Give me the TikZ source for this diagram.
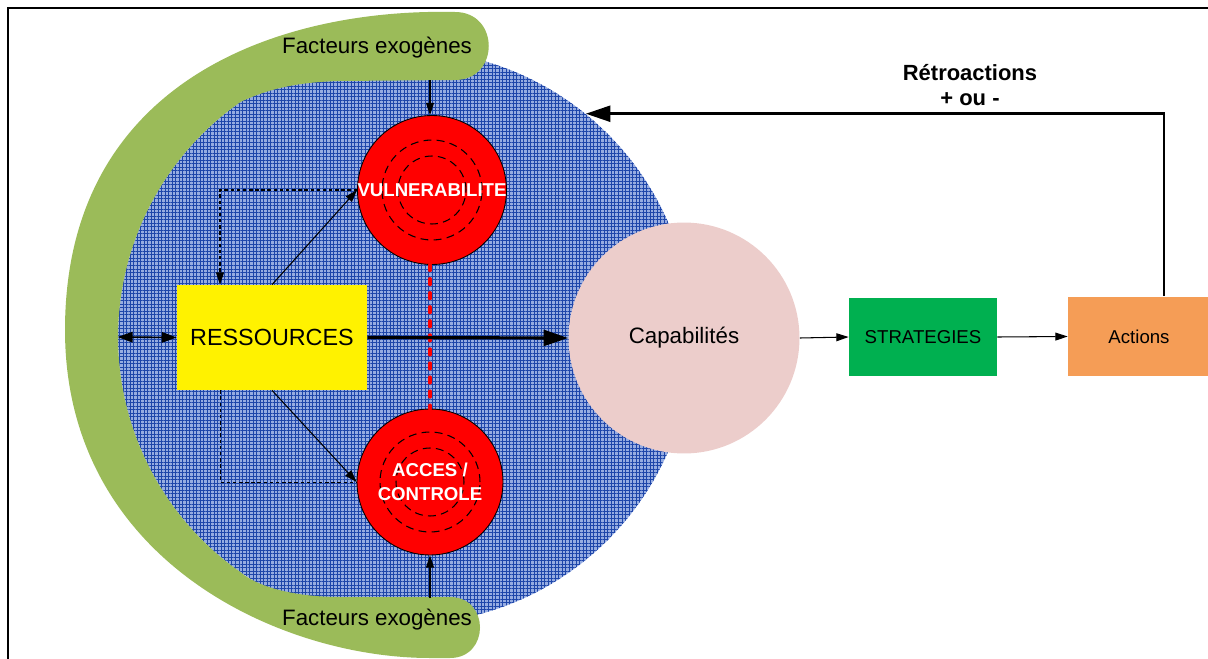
\documentclass[tikz,border=0pt]{standalone}
\usepackage{fontspec}
\setmainfont{Liberation Sans}
\usetikzlibrary{arrows.meta,positioning,patterns.meta}

\definecolor{olivegreen}{RGB}{155,187,89}
\definecolor{gridblue}{RGB}{30,70,170}
\definecolor{paleblue}{RGB}{150,172,225}
\definecolor{capapink}{RGB}{236,205,203}
\definecolor{stratgreen}{RGB}{0,176,80}
\definecolor{actorange}{RGB}{245,157,86}

\begin{document}
\begin{tikzpicture}[x=0.02cm, y=-0.02cm,
    target/.style={circle, draw=black, line width=0.5pt, fill=red, minimum size=2.92cm, inner sep=0pt, align=center, text=white, font=\fontsize{10.6}{13.6}\selectfont\bfseries,
        path picture={\draw[ring] (path picture bounding box.center) circle[radius=1cm];
                      \draw[ring] (path picture bounding box.center) circle[radius=0.68cm];}},
    ring/.style={dash pattern=on 4.5pt off 3pt, line width=0.6pt},
    box/.style={rectangle, fill=#1, minimum width=2.96cm, minimum height=1.58cm, font=\fontsize{10.6}{13}\selectfont},
    arr/.style={-{Triangle[length=7pt,width=4.5pt]}, line width=0.6pt},
    big/.style={-{Triangle[length=14pt,width=9pt]}, line width=1.8pt},
    link/.style={dash pattern=on 2pt off 1.5pt, line width=0.5pt},
    exo/.style={font=\fontsize{12.7}{15}\selectfont}
]
\useasboundingbox (0,0) rectangle (1208,659);

% --- Frame ---
\draw[line width=1.7pt] (1215,8) -- (8,8) -- (8,665);

% --- Blue zone ---
\node[circle, minimum size=11.48cm, inner sep=0pt, fill=paleblue,
      postaction={pattern={Hatch[angle=0,distance=2pt,line width=0.5pt]}, pattern color=gridblue}] (zone) at (405,337) {};

% --- Green crescent (exogenous factors) ---
\fill[olivegreen] (455,12) .. controls (280,8) and (65,80) .. (65,330)
  .. controls (65,560) and (280,658) .. (430,658) -- (450,658)
  .. controls (490,658) and (490,597) .. (450,597) -- (340,597)
  .. controls (290,597) and (255,585) .. (240.4,572.1)
  arc[start angle=235, end angle=125, radius=5.74cm]
  .. controls (270,88) and (300,82) .. (340,81) -- (455,80)
  .. controls (500,80) and (500,12) .. (455,12) -- cycle;
\node[exo] (fxtop) at (377,48) {Facteurs exogènes};
\node[exo] (fxbot) at (377,620) {Facteurs exogènes};
\coordinate (fx1) at (430,80);
\coordinate (fx2) at (430,598);

% --- Nodes ---
\node[target] (vul) at (432,190) {VULNERABILITE};
\node[target] (acc) at (430,482) {ACCES /\\CONTROLE};
\node[box=yellow, minimum width=3.8cm, minimum height=2.1cm, font=\fontsize{13.3}{16}\selectfont] (res) at (272,337.5) {RESSOURCES};
\node[circle, fill=capapink, minimum size=4.62cm, inner sep=0pt, font=\fontsize{12.7}{15}\selectfont] (cap) at (684,338) {Capabilités};
\node[box=stratgreen] (strat) at (923,337) {STRATEGIES};
\node[box=actorange, minimum width=2.84cm, minimum height=1.6cm] (act) at (1139,336.5) {Actions};
\node[font=\fontsize{12.5}{14.7}\selectfont\bfseries, align=center] (retro) at (970,85) {Rétroactions\\+ ou -};

% --- Connectors ---
\draw[arr] (fx1) -- (fx1 |- vul.north);
\draw[arr] (fx2) -- (fx2 |- acc.south);
\draw[red, line width=2.3pt, dash pattern=on 3pt off 5pt, line cap=round] (acc.north |- vul.south) -- (acc.north);
\draw[{Triangle[length=8.5pt,width=6pt]}-{Triangle[length=8.5pt,width=6pt]}, line width=0.9pt] (zone.west) -- (res.west);
\draw[big] (res.east) -- (cap.west);
\draw[arr] (res.north) -- (vul.west);
\draw[arr] (res.south) -- (acc.west);
\draw[link, arr] (vul.west) -| ([xshift=-1.04cm]res.north);
\draw[link] ([xshift=-1.04cm]res.south) |- (acc.west);
\draw[arr] (cap.east) -- (strat.west);
\draw[arr] (strat.east) -- (act.west);
\draw[big, line width=1.7pt] ([xshift=0.5cm]act.north) |- (zone.51.6);
\end{tikzpicture}
\end{document}
